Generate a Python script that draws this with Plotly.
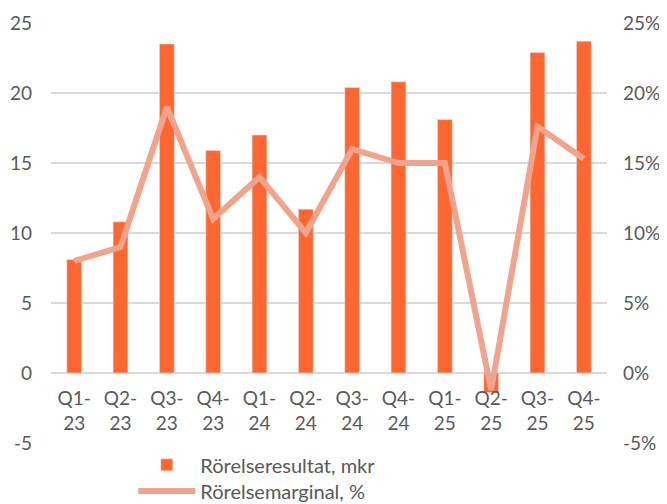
import plotly.graph_objects as go

categories = ["Q1-<br>23", "Q2-<br>23", "Q3-<br>23", "Q4-<br>23", "Q1-<br>24", "Q2-<br>24",
              "Q3-<br>24", "Q4-<br>24", "Q1-<br>25", "Q2-<br>25", "Q3-<br>25", "Q4-<br>25"]
rorelseresultat = [8.1, 10.8, 23.5, 15.9, 17.0, 11.7, 20.4, 20.8, 18.1, -1.4, 22.9, 23.7]
rorelsemarginal = [0.080, 0.090, 0.190, 0.110, 0.140, 0.100, 0.160, 0.150, 0.150, -0.012, 0.176, 0.153]
left_ticks = [-5, 0, 5, 10, 15, 20, 25]
left_labels = ["-5", "0", "5", "10", "15", "20", "25"]
right_ticks = [-0.05, 0, 0.05, 0.10, 0.15, 0.20, 0.25]
right_labels = ["-5%", "0%", "5%", "10%", "15%", "20%", "25%"]

BAR = "#FF6630"
LINE = "#F1A38B"
TXT = "#595959"
GRID = "#D9D9D9"
FONT = "Lato, Liberation Sans, sans-serif"

fig = go.Figure()
fig.add_trace(go.Bar(x=categories, y=rorelseresultat, name="Rörelseresultat, mkr",
                     marker=dict(color=BAR), width=0.32, yaxis="y", legend="legend"))
fig.add_trace(go.Scatter(x=categories, y=rorelsemarginal, name="Rörelsemarginal, %",
                         mode="lines", line=dict(color=LINE, width=6), yaxis="y2",
                         legend="legend2"))

leg_common = dict(orientation="v", x=0.148, xanchor="left", yanchor="middle",
                  bgcolor="rgba(0,0,0,0)", font=dict(size=20, color=TXT), itemwidth=57)

# page body has an 8px default margin, so the figure is sized 8px smaller
fig.update_layout(
    width=659, height=496,
    margin=dict(l=43, r=60, t=15, b=61, autoexpand=False),
    paper_bgcolor="white", plot_bgcolor="white",
    font=dict(family=FONT, size=19, color=TXT),
    showlegend=True,
    legend=dict(y=-0.052, **leg_common),
    legend2=dict(y=-0.114, **leg_common),
    xaxis=dict(anchor="free", position=1/6, showgrid=False, showline=False, ticks="",
               ticklabelstandoff=12, automargin=False, tickfont=dict(size=19, color=TXT)),
    yaxis=dict(range=[-5, 25], tickvals=left_ticks, ticktext=left_labels,
               showgrid=True, gridcolor=GRID, gridwidth=1.5,
               zeroline=True, zerolinecolor=GRID, zerolinewidth=1.5, showline=False,
               ticklabelstandoff=18, automargin=False, domain=[0, 1]),
    yaxis2=dict(range=[-0.05, 0.25], tickvals=right_ticks, ticktext=right_labels,
                overlaying="y", side="right", showgrid=False, zeroline=False, showline=False,
                ticklabelstandoff=15, automargin=False),
)

fig.write_html("out.html")
